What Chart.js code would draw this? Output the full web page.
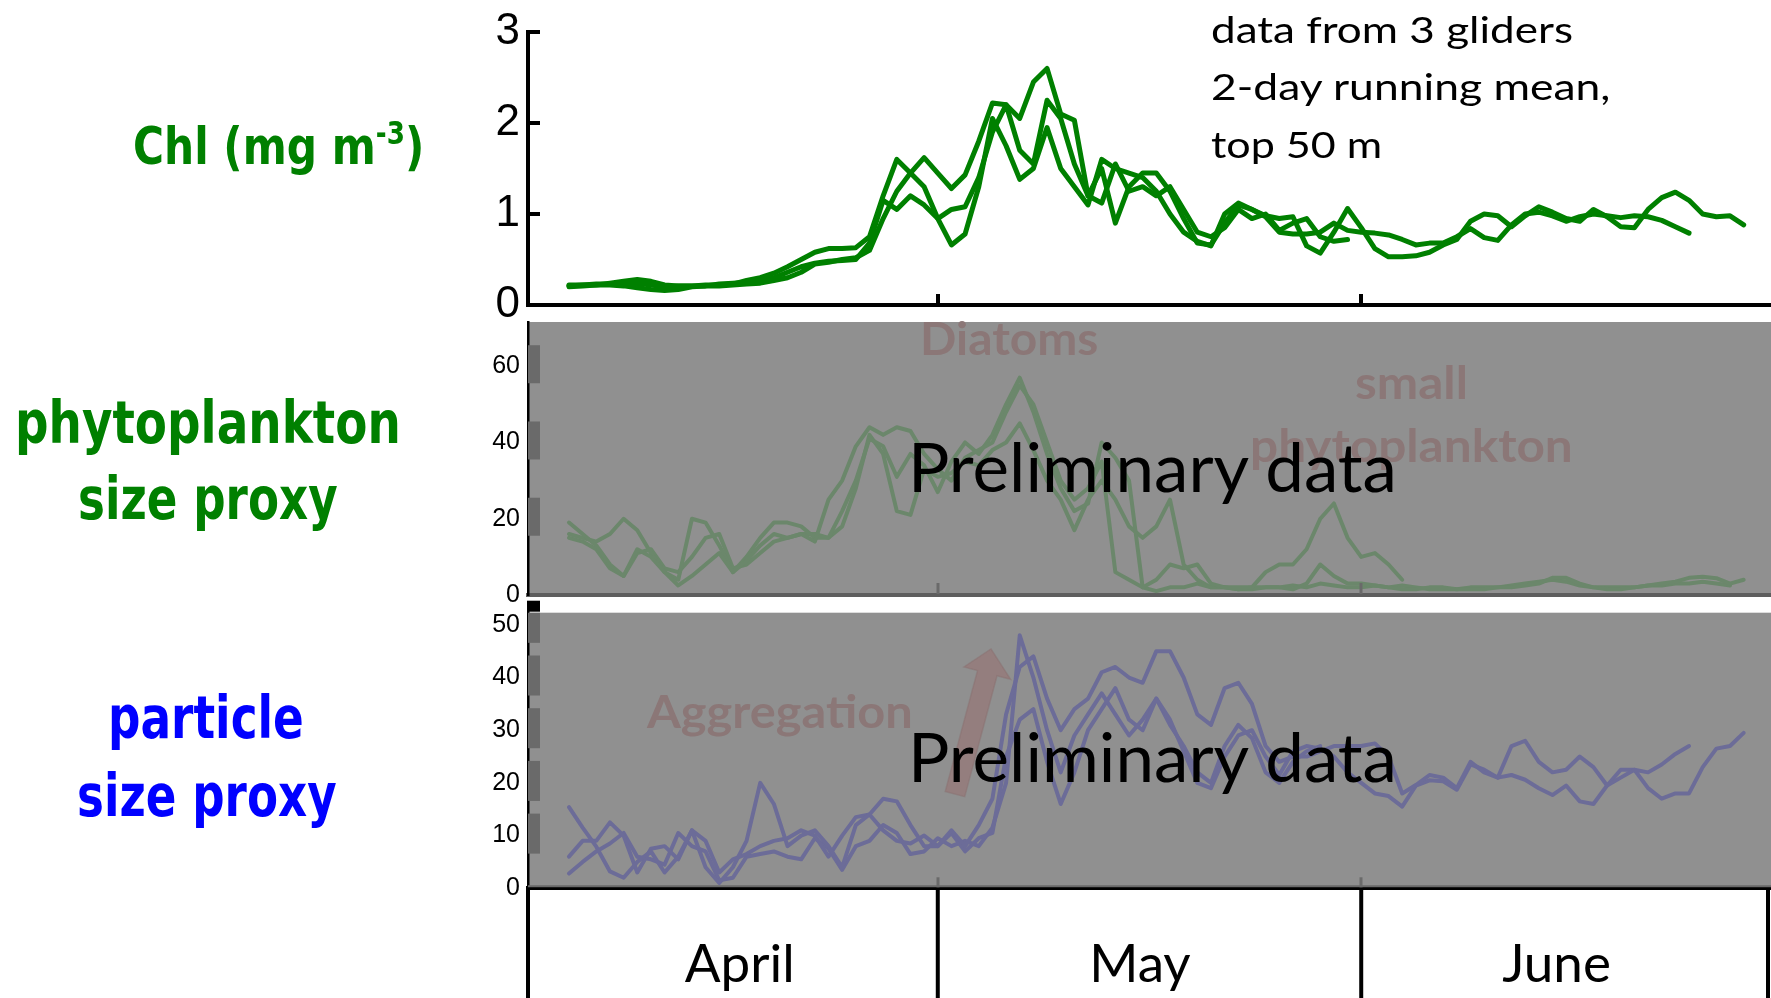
<!DOCTYPE html>
<html>
<head>
<meta charset="utf-8">
<script src="https://cdn.jsdelivr.net/npm/chart.js@4.4.1/dist/chart.umd.min.js"></script>
<style>
  html, body { margin: 0; padding: 0; background: #fff; width: 1771px; height: 998px; overflow: hidden; position: relative; }
  canvas { position: absolute; left: 0; }
  .t { position: absolute; left: 0; top: 0; white-space: nowrap; transform-origin: 0 0; line-height: 1; }
  .side { font-family: "DejaVu Sans", sans-serif; font-weight: bold; }
  .cal { font-family: Lato, "Open Sans", sans-serif; }
  .note { font-family: Lato, sans-serif; font-weight: bold; font-size: 46px; color: #8b7777; }
  .big { font-family: Lato, sans-serif; font-size: 68px; color: #000; }
  .bl { display: inline-block; width: 0; height: 0; vertical-align: baseline; }
  sup { font-size: 0.62em; line-height: 0; vertical-align: 0.62em; }
  svg { position: absolute; left: 0; top: 0; }
</style>
</head>
<body>
<canvas id="chl" width="1771" height="340" style="top:0"></canvas>
<canvas id="phyto" width="1771" height="312" style="top:300px"></canvas>
<canvas id="part" width="1771" height="408" style="top:590px"></canvas>

<!-- panel titles -->
<div class="t side" style="color:#008000;font-size:51px" data-x="133" data-b="164" data-w="291">Chl (mg m<sup>-3</sup>)</div>
<div class="t side" style="color:#008000;font-size:59px" data-x="15" data-b="443" data-w="386">phytoplankton</div>
<div class="t side" style="color:#008000;font-size:59px" data-x="78" data-b="519" data-w="260">size proxy</div>
<div class="t side" style="color:#0000ff;font-size:59px" data-x="108" data-b="738" data-w="196">particle</div>
<div class="t side" style="color:#0000ff;font-size:59px" data-x="77" data-b="816" data-w="260">size proxy</div>

<!-- data note -->
<div class="t cal" style="font-size:37px;color:#000" data-x="1211" data-b="43" data-w="362">data from 3 gliders</div>
<div class="t cal" style="font-size:37px;color:#000" data-x="1211" data-b="100" data-w="400">2-day running mean,</div>
<div class="t cal" style="font-size:37px;color:#000" data-x="1211" data-b="158" data-w="171">top 50 m</div>

<!-- aggregation arrow -->
<svg width="1771" height="998" viewBox="0 0 1771 998">
  <polygon points="945.3,791.4 977.6,670.5 964.1,666.9 991,649 1010.5,679.3 997,675.7 964.7,796.6"
           fill="#957b7b" fill-opacity="0.85" stroke="#8a7070" stroke-opacity="0.5" stroke-width="1.5"/>
</svg>

<!-- annotations -->
<div class="t note" data-x="920" data-b="355" data-w="178">Diatoms</div>
<div class="t note" data-x="1355" data-b="399" data-w="113">small</div>
<div class="t note" data-x="1250" data-b="462" data-w="323">phytoplankton</div>
<div class="t note" data-x="647" data-b="728" data-w="266">Aggregation</div>
<div class="t big" data-x="908" data-b="492" data-w="489">Preliminary data</div>
<div class="t big" data-x="908" data-b="782" data-w="489">Preliminary data</div>

<script>
// Time axis: days since 1 April; every series is sampled daily from day 3 onward.
const startDay = 3;
const monthStarts = [0, 30, 61, 91];
const monthNames = ['April', 'May', 'June'];
const monthLabelDays = [15.5, 44.8, 75.3];

const chlTicks = [0, 1, 2, 3];
const phytoTicks = [0, 20, 40, 60];
const partTicks = [0, 10, 20, 30, 40, 50];

// Chlorophyll (mg m-3), one array per glider
const chlA = [
  .22,.22,.23,.23,.22,.24,.22,.20,.21,.21,
  .22,.22,.23,.27,.30,.35,.42,.50,.58,.62,
  .62,.63,.75,1.20,1.60,1.45,1.30,0.95,0.66,0.78,
  1.30,2.05,1.75,1.38,1.50,1.95,1.50,1.30,1.10,1.60,
  1.50,1.45,1.40,1.25,1.00,0.80,0.70,0.65,1.00,1.12,
  1.05,0.98,0.95,0.97,0.65,0.57,0.80,1.06,0.85,0.62,
  0.53,0.53,0.54,0.58,0.66,0.72,0.92,1.00,0.98,0.86,
  0.98,1.08,1.02,0.95,0.92,1.05,0.97,0.86,0.85,1.05,
  1.18,1.24,1.15,1.00,0.97,0.98,0.88,null
];
const chlB = [
  .20,.21,.22,.24,.26,.28,.26,.22,.21,.21,
  .21,.23,.24,.25,.26,.30,.36,.42,.46,.48,
  .49,.50,.68,1.15,1.05,1.20,1.10,0.95,1.05,1.08,
  1.40,1.90,2.20,1.70,1.55,2.25,2.05,1.55,1.20,1.50,
  0.90,1.30,1.45,1.45,1.25,0.95,0.68,0.66,0.90,1.10,
  1.05,0.97,0.80,0.78,0.78,0.80,0.90,0.82,0.80,0.79,
  0.77,0.72,0.66,0.68,0.68,0.75,0.84,0.74,0.71,0.88,
  1.00,1.02,0.98,0.92,0.97,1.00,0.98,0.96,0.98,0.97,
  0.93,0.86,0.79,null,null,null,null,null
];
const chlC = [
  .21,.22,.22,.22,.21,.19,.17,.16,.17,.20,
  .21,.21,.22,.23,.24,.27,.30,.36,.45,.47,
  .50,.52,.60,0.95,1.25,1.45,1.62,1.45,1.28,1.43,
  1.80,2.22,2.20,2.05,2.45,2.60,2.10,2.03,1.20,1.12,
  1.55,1.25,1.30,1.20,1.30,1.05,0.80,0.75,0.85,1.05,
  0.95,1.00,0.82,0.90,0.95,0.75,0.70,0.72,null,null,
  null,null,null,null,null,null,null,null,null,null,
  null,null,null,null,null,null,null,null,null,null,
  null,null,null,null,null,null,null,null
];

// Phytoplankton size proxy
const phytoA = [
  19,16,13,8,5,12,10,6,2.5,5,
  8,11,6,9,13,16,15,16,14,25,
  30,39,44,42,44,43,37,33,30,36,
  38,40,48,55,50,40,30,25,28,35,
  6,4,2,4,8,7,8,3,2,2,
  2,6,8,8,12,20,24,15,10,11,
  8,4,null,null,null,null,null,null,null,null,
  null,null,null,null,null,null,null,null,null,null,
  null,null,null,null,null,null,null,null
];
const phytoB = [
  16,15,14,16,20,17,11,6,4,20,
  19,13,6,10,15,19,19,18,15,15,
  22,30,41,39,31,37,34,27,35,40,
  37,42,50,57,48,37,28,22,24,40,
  36,30,2,1,2,2,3,2,2,1.5,
  2,2,2,1.5,3,8,5,3,3,2.5,
  2,1.5,1.5,2,2,1.5,1.5,1.5,2,2,
  2.5,3,4.5,4.5,3,2,1.5,1.5,2,2.5,
  3,3.5,4.5,4.8,4.4,3,4,null
];
const phytoC = [
  15,14,12,7,5,11,12,7,6,10,
  15,16,7,8,11,14,15,16,16,15,
  18,28,42,37,22,21,33,31,32,35,
  34,38,40,45,38,30,25,17,25,30,
  25,18,15,18,25,8,4,2,2,1.5,
  1.5,2,2,2.5,2,3,2.5,2,2,2.5,
  2,2.5,2,1.5,1.5,1.5,2,2,2,2.5,
  3,3.5,4,3.5,2.5,2,2,2,2,2.5,
  2.5,3,3,3.5,3,2.5,null,null
];

// Particle size proxy
const partA = [
  15.4,11.5,7.9,3.2,2,5,7,3,6,11,
  4,1,4,9,20,16,8,10,11,8,
  4,12,14,17,16.5,12,8,8,11,8,
  12,17,33,42,44,36,30,34,36,41,
  42,40,39,45,45,40,33,31,38,39,
  35,27,24,25,25,26,27,27,27,27.5,
  25,18,19.6,21.5,21,19,24,22,21,27,
  28,24,22,22.5,25,23,19.5,21,22.5,22,
  23.5,25.5,27,null,null,null,null,null
];
const partB = [
  6,9,9,12.5,10,3,7.5,8,5.5,11,
  9,3,5.5,6.5,8,9,9.5,11,10,6,
  10,13.5,14,11,9,8.5,10,8,10.5,7,
  9.5,10.5,25,32,34,24,16,22,30,34,
  38,32,30,36,32,26,20,19,25,29,
  30,25,21.5,26,27,26.5,25,22,20,18,
  17.5,15.5,19.5,20.5,20.3,18.7,23.5,22.5,21,21.5,
  20.6,19,17.7,19.5,16.5,16,19.5,22.5,22.5,19,
  17,18,18,23,26.5,27,29.5,null
];
const partC = [
  2.8,5,7,8.5,10.5,6,5.5,4.5,10.5,8,
  7,1.5,2,6,6.5,7,6,5.5,9.5,7.5,
  3.5,8,9,12,10.5,6.5,7,9.5,8,9,
  8,11.5,20,48,40,30,22,29,33,37,
  33,29,32,36,31,27,22,20,27,31,
  28.5,22,20,24,26,27,null,null,null,null,
  null,null,null,null,null,null,null,null,null,null,
  null,null,null,null,null,null,null,null,null,null,
  null,null,null,null,null,null,null,null
];

const toPoints = arr => arr.map((v, i) => ({ x: startDay + i, y: v }));

// Panel furniture: grey backdrop, axis tick marks, month dividers
const panelDecor = {
  id: 'panelDecor',
  beforeDraw(chart, args, o) {
    const { ctx, chartArea: a } = chart;
    if (o.fill) {
      ctx.save();
      ctx.fillStyle = o.fill;
      ctx.fillRect(a.left, a.top, a.right - a.left, a.bottom - a.top);
      ctx.restore();
    }
  },
  beforeDatasetsDraw(chart, args, o) {
    const { ctx, chartArea: a, scales: { y } } = chart;
    if (!o.ySeg) return;
    ctx.save();
    ctx.beginPath();
    ctx.rect(a.left, a.top, a.right - a.left, a.bottom - a.top);
    ctx.clip();
    ctx.fillStyle = o.ySeg.color;
    y.ticks.forEach(t => {
      if (t.value > 0) {
        const py = y.getPixelForValue(t.value);
        ctx.fillRect(a.left, py - o.ySeg.h / 2 - 2, o.ySeg.w, o.ySeg.h);
      }
    });
    ctx.restore();
  },
  afterDraw(chart, args, o) {
    const { ctx, chartArea: a, scales: { x, y } } = chart;
    const line = (x1, y1, x2, y2) => { ctx.beginPath(); ctx.moveTo(x1, y1); ctx.lineTo(x2, y2); ctx.stroke(); };
    ctx.save();
    ctx.lineCap = 'butt';
    if (o.yMarks) {
      ctx.strokeStyle = o.yMarks.color;
      ctx.lineWidth = o.yMarks.width;
      y.ticks.forEach(t => {
        const py = Math.round(y.getPixelForValue(t.value));
        line(a.left, py, a.left + o.yMarks.len, py);
      });
    }
    if (o.xMarks) {
      ctx.strokeStyle = o.xMarks.color;
      ctx.lineWidth = o.xMarks.width;
      monthStarts.slice(1, 3).forEach(d => {
        const px = Math.round(x.getPixelForValue(d));
        line(px, a.bottom - 1, px, a.bottom - o.xMarks.len);
      });
    }
    if (o.baseLine) {
      ctx.strokeStyle = o.baseLine;
      ctx.lineWidth = 2;
      line(a.left, a.bottom - 2, a.right, a.bottom - 2);
    }
    if (o.square) {
      ctx.fillStyle = '#000';
      ctx.fillRect(a.left - 1, a.top - 12, 13, 11);
    }
    if (o.dividers) {
      ctx.strokeStyle = '#000';
      ctx.lineWidth = 4;
      monthStarts.forEach(d => {
        const px = Math.min(x.getPixelForValue(d), chart.width - 3);
        line(px, a.bottom, px, chart.height);
      });
    }
    ctx.restore();
  }
};

function makePanel(id, cfg) {
  return new Chart(document.getElementById(id), {
    type: 'line',
    data: {
      datasets: cfg.series.map(s => ({
        data: toPoints(s),
        borderColor: cfg.color,
        borderWidth: cfg.lw,
        pointRadius: 0,
        tension: 0,
        spanGaps: false,
        borderJoinStyle: 'round',
        borderCapStyle: 'round'
      }))
    },
    options: {
      responsive: false,
      animation: false,
      events: [],
      layout: { padding: { top: cfg.top, left: 0, right: 0, bottom: 0 } },
      plugins: { legend: { display: false }, tooltip: { enabled: false }, panelDecor: cfg.decor },
      scales: {
        x: {
          type: 'linear', min: 0, max: 91,
          afterFit: s => { s.height = cfg.xh; },
          afterBuildTicks: s => { s.ticks = (cfg.xLabels ? monthLabelDays : monthStarts).map(v => ({ value: v })); },
          grid: { display: false },
          border: { display: true, color: cfg.xBorder, width: 4 },
          ticks: cfg.xLabels ? {
            display: true, autoSkip: false, maxRotation: 0, padding: cfg.xPad, color: '#000',
            font: { family: 'Lato', size: 53 },
            callback: (v, i) => monthNames[i]
          } : { display: false }
        },
        y: {
          min: 0, max: cfg.ymax,
          afterFit: s => { s.width = 528; },
          afterBuildTicks: s => { s.ticks = cfg.ticks.map(v => ({ value: v })); },
          grid: { display: false },
          border: { display: true, color: '#000', width: cfg.yBorder },
          ticks: { color: '#000', padding: 0, font: { family: 'Liberation Sans', size: cfg.tickSize } }
        }
      }
    },
    plugins: [panelDecor]
  });
}

makePanel('chl', {
  series: [chlA, chlB, chlC], color: '#008000', lw: 5,
  top: 32, xh: 35, ymax: 3, ticks: chlTicks, tickSize: 44, yBorder: 4, xBorder: '#000',
  decor: { yMarks: { color: '#000', width: 4, len: 12 }, xMarks: { color: '#000', width: 4, len: 11 } }
});

makePanel('phyto', {
  series: [phytoA, phytoB, phytoC], color: '#6b876b', lw: 4,
  top: 22, xh: 17, ymax: 71.6, ticks: phytoTicks, tickSize: 25, yBorder: 2.5, xBorder: '#5e5e5e',
  decor: { fill: '#909090', ySeg: { color: '#6a6a6a', w: 12, h: 38 }, xMarks: { color: '#6a6a6a', width: 3, len: 12 } }
});

makePanel('part', {
  series: [partA, partB, partC], color: '#6c6c98', lw: 4,
  top: 22.7, xh: 109.7, ymax: 52.3, ticks: partTicks, tickSize: 25, yBorder: 2.5, xBorder: '#000',
  xLabels: true, xPad: 37,
  decor: { fill: '#909090', ySeg: { color: '#6a6a6a', w: 12, h: 40 }, xMarks: { color: '#6a6a6a', width: 3, len: 11 },
           baseLine: '#6a6a6a', square: true, dividers: true }
});

// Place each text block by its left edge, baseline and printed width
document.querySelectorAll('.t').forEach(el => {
  const mk = document.createElement('span');
  mk.className = 'bl';
  el.appendChild(mk);
  const w0 = el.offsetWidth;
  el.style.left = el.dataset.x + 'px';
  el.style.top = (el.dataset.b - mk.offsetTop) + 'px';
  if (el.dataset.w) el.style.transform = 'scaleX(' + (el.dataset.w / w0) + ')';
});
</script>
</body>
</html>
